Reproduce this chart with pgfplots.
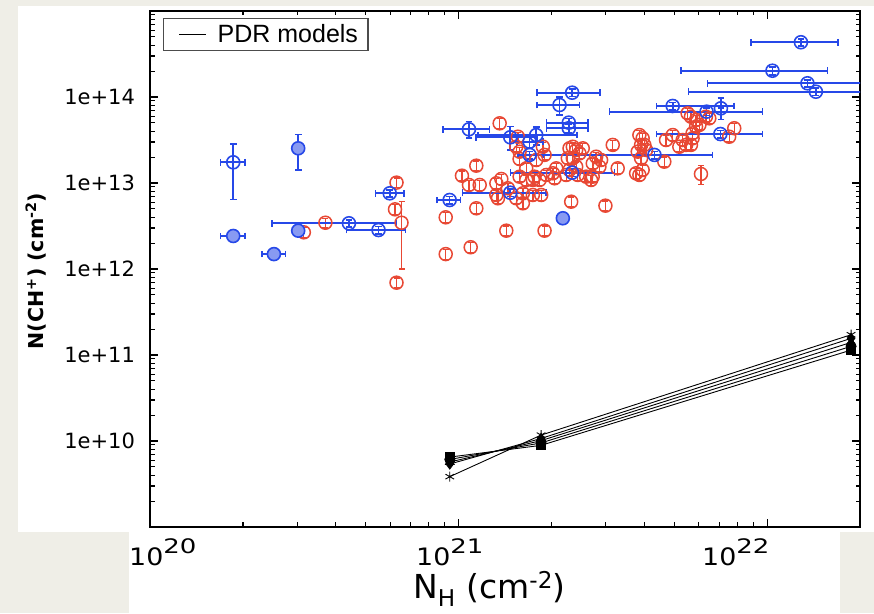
\documentclass[border=0pt]{standalone}
\usepackage{fontspec}
\setmainfont{Liberation Sans}
\newfontfamily\djfont{DejaVu Sans}
\usepackage{graphicx}
\usepackage{pgfplots}
\pgfplotsset{compat=1.18}
\definecolor{bg}{RGB}{239,238,231}
\definecolor{myred}{RGB}{232,72,52}
\definecolor{myblue}{RGB}{38,72,232}

\pgfplotstableread{
x y
3.70e20 3.45e12
3.15e20 2.67e12
6.29e20 1.01e13
6.22e20 4.94e12
6.29e20 6.93e11
9.08e20 3.99e12
9.08e20 1.49e12
1.094e21 1.79e12
1.141e21 5.08e12
1.427e21 2.79e12
1.899e21 2.79e12
1.141e21 1.59e13
1.025e21 1.216e13
1.08e21 9.48e12
1.17e21 9.48e12
1.358e21 4.94e13
1.325e21 9.92e12
1.375e21 1.113e13
1.325e21 7.25e12
1.341e21 6.64e12
1.444e21 8.68e12
1.537e21 6.64e12
1.615e21 5.81e12
2.316e21 6.06e12
2.99e21 5.45e12
1.656e21 1.48e13
1.556e21 3.45e13
1.537e21 2.64e13
1.576e21 2.31e13
1.576e21 1.90e13
1.875e21 2.64e13
1.899e21 2.12e13
1.784e21 1.85e13
1.762e21 1.184e13
1.923e21 1.239e13
2.02e21 1.297e13
2.072e21 1.48e13
2.046e21 1.134e13
1.576e21 1.184e13
1.656e21 1.084e13
1.74e21 1.084e13
1.829e21 1.084e13
1.615e21 7.59e12
1.74e21 7.25e12
1.852e21 7.25e12
2.287e21 2.53e13
2.344e21 2.64e13
2.404e21 2.42e13
2.464e21 2.21e13
2.525e21 2.53e13
2.344e21 1.94e13
2.258e21 1.94e13
2.287e21 1.416e13
2.404e21 1.547e13
2.432e21 1.239e13
2.231e21 1.239e13
2.589e21 1.184e13
2.72e21 1.184e13
2.687e21 1.084e13
2.79e21 2.02e13
2.895e21 1.85e13
2.859e21 1.547e13
2.72e21 1.69e13
3.158e21 2.77e13
3.277e21 1.48e13
3.853e21 3.61e13
3.948e21 3.31e13
3.902e21 2.77e13
3.998e21 2.77e13
4.05e21 2.42e13
3.805e21 2.31e13
3.902e21 1.94e13
3.948e21 1.416e13
3.76e21 1.297e13
3.853e21 1.239e13
4.64e21 1.77e13
4.70e21 3.16e13
4.94e21 3.61e13
5.19e21 2.64e13
5.32e21 3.16e13
5.46e21 2.77e13
5.66e21 2.77e13
5.73e21 3.31e13
5.73e21 3.78e13
5.88e21 4.52e13
5.88e21 5.40e13
6.03e21 4.73e13
5.52e21 6.46e13
5.66e21 5.90e13
6.33e21 5.90e13
6.49e21 5.65e13
7.53e21 3.45e13
7.82e21 4.33e13
}\reddata

\pgfplotstableread{
x y yp ym
6.53e20 3.45e12 0.76 0.71
6.10e21 1.273e13 0.26 0.24
}\redbig

\pgfplotstableread{
x y xp xm yp ym
1.86e20 1.74e13 0.17e20 0.17e20 0.63 0.63
4.41e20 3.40e12 1.88e20 1.93e20 0.10 0.10
5.50e20 2.84e12 1.22e20 1.17e20 0.10 0.10
5.98e20 7.59e12 0.67e20 0.60e20 0.10 0.10
9.35e20 6.34e12 0.80e20 0.82e20 0.10 0.10
1.08e21 4.21e13 0.18e21 0.19e21 0.23 0.21
1.47e21 3.40e13 0.33e21 0.33e21 0.33 0.29
1.784e21 3.61e13 0.64e21 0.63e21 0.25 0.23
1.698e21 3.02e13 0.18e21 0.15e21 0.15 0.15
2.275e21 5.03e13 0.35e21 0.35e21 0.12 0.12
2.275e21 4.33e13 0.35e21 0.35e21 0.12 0.12
2.333e21 1.122e14 0.54e21 0.54e21 0.10 0.10
2.123e21 8.07e13 0.34e21 0.33e21 0.25 0.23
1.698e21 2.12e13 0.18e21 0.14e21 0.10 0.10
4.31e21 2.12e13 2.34e21 2.75e21 0.10 0.10
2.333e21 1.318e13 0.87e21 0.86e21 0.10 0.10
1.47e21 7.71e12 0.45e21 0.44e21 0.10 0.10
4.94e21 7.86e13 2.88e21 0.56e21 0.10 0.10
6.36e21 6.75e13 3.30e21 3.28e21 0.10 0.10
7.08e21 7.39e13 0 0 0.31 0.26
7.05e21 3.71e13 2.61e21 2.67e21 0.10 0.10
1.286e22 4.33e14 4.14e21 4.00e21 0.10 0.10
1.04e22 2.02e14 5.27e21 5.14e21 0.10 0.10
1.35e22 1.443e14 7.09e21 7.09e21 0.10 0.10
1.438e22 1.152e14 8.80e21 8.82e21 0.10 0.10
}\bluedata

\pgfplotstableread{
x y xp xm yp ym
3.02e20 2.53e13 0 0 0.45 0.44
1.86e20 2.42e12 0.17e20 0.17e20 0.10 0.10
2.52e20 1.49e12 0.23e20 0.21e20 0.10 0.10
3.02e20 2.79e12 0 0 0.10 0.10
2.176e21 3.89e12 0 0 0.10 0.10
}\bluefilled

\pgfplotsset{
  bluebars/.style={/pgfplots/error bars/.cd, x dir=both, x explicit, y dir=both, y explicit relative,
    error mark=-,
    error bar style={line width=1.7pt, myblue},
    error mark options={rotate=90, mark size=3.4pt, line width=1.7pt, myblue},
    /pgfplots/.cd},
  redbars/.style={/pgfplots/error bars/.cd, y dir=both, error mark=-,
    error bar style={line width=1.3pt, myred},
    error mark options={rotate=90, mark size=3pt, line width=1.3pt, myred},
    /pgfplots/.cd},
}

\begin{document}
\begin{tikzpicture}[x=1pt,y=1pt]
\fill[bg] (0,0) rectangle (874,613);
\fill[white] (18,81) rectangle (874,607);
\fill[white] (129,0) rectangle (840,81);
\begin{axis}[
  at={(150pt,86pt)}, anchor=south west,
  scale only axis, width=710pt, height=516pt,
  xmode=log, ymode=log, log basis x=10, log basis y=10,
  xmin=1e20, xmax=2e22, ymin=1e9, ymax=1e15,
  xtick={1e20,1e21,1e22}, xticklabels={,,},
  minor xtick={2e20,3e20,4e20,5e20,6e20,7e20,8e20,9e20,2e21,3e21,4e21,5e21,6e21,7e21,8e21,9e21},
  ytick={1e10,1e11,1e12,1e13,1e14},
  yticklabels={1e+10,1e+11,1e+12,1e+13,1e+14},
  minor ytick={2e9,3e9,4e9,5e9,6e9,7e9,8e9,9e9,2e10,3e10,4e10,5e10,6e10,7e10,8e10,9e10,2e11,3e11,4e11,5e11,6e11,7e11,8e11,9e11,2e12,3e12,4e12,5e12,6e12,7e12,8e12,9e12,2e13,3e13,4e13,5e13,6e13,7e13,8e13,9e13,2e14,3e14,4e14,5e14,6e14,7e14,8e14,9e14},
  yticklabel style={font=\djfont\fontsize{21}{21}\selectfont, inner sep=0pt, xshift=-15pt},
  tick align=inside, xtick pos=both, ytick pos=both,
  major tick length=8pt, minor tick length=4.5pt,
  every major tick/.append style={line width=1.4pt, black},
  every minor tick/.append style={line width=1.1pt, black},
  axis line style={line width=2pt, black},
  legend style={at={(axis description cs:0.0183,0.9864)}, anchor=north west,
    draw=black!70, line width=1.3pt, fill=white,
    font=\fontsize{25}{25}\selectfont,
    inner xsep=8pt, inner ysep=4pt, nodes={inner xsep=2pt, inner ysep=2pt}},
  legend image code/.code={\path (-7pt,0pt); \draw[black, line width=1pt] (0pt,0pt) -- (27pt,0pt); \path (36pt,0pt);},
]
% red points
\addplot[only marks, mark=o, mark size=6.5pt, myred, line width=1.5pt, forget plot,
  redbars, /pgfplots/error bars/y fixed relative=0.13]
  table[x=x, y=y] {\reddata};
\addplot[only marks, mark=o, mark size=6.5pt, myred, line width=1.5pt, forget plot,
  redbars, /pgfplots/error bars/y explicit relative]
  table[x=x, y=y, y error plus=yp, y error minus=ym] {\redbig};
% blue points
\addplot[only marks, mark=o, mark size=6.5pt, myblue, line width=1.6pt, forget plot, bluebars]
  table[x=x, y=y, x error plus=xp, x error minus=xm, y error plus=yp, y error minus=ym] {\bluedata};
\addplot[only marks, mark=*, mark size=6.5pt, myblue, line width=1.6pt, forget plot,
  mark options={fill=myblue!55, draw=myblue}, bluebars]
  table[x=x, y=y, x error plus=xp, x error minus=xm, y error plus=yp, y error minus=ym] {\bluefilled};
% PDR models
\addplot[black, line width=0.9pt, mark=asterisk, mark size=5pt, forget plot]
  coordinates {(9.36e20,3.85e9) (1.85e21,1.17e10) (1.87e22,1.72e11)};
\addplot[black, line width=0.9pt, mark=square*, mark size=4.5pt, forget plot]
  coordinates {(9.36e20,6.5e9) (1.85e21,8.9e9) (1.87e22,1.14e11)};
\addplot[black, line width=0.9pt, mark=*, mark size=5pt, forget plot]
  coordinates {(9.36e20,6.1e9) (1.85e21,9.5e9) (1.87e22,1.26e11)};
\addplot[black, line width=0.9pt, mark=triangle*, mark size=5pt, forget plot]
  coordinates {(9.36e20,5.7e9) (1.85e21,1.01e10) (1.87e22,1.40e11)};
\addplot[black, line width=0.9pt, mark=diamond*, mark size=5pt, forget plot]
  coordinates {(9.36e20,5.4e9) (1.85e21,1.07e10) (1.87e22,1.56e11)};
\addlegendimage{black, line width=1pt}
\addlegendentry{PDR models}
\end{axis}
% x tick labels
\node[anchor=base west, inner sep=0pt] at (129,48) {\djfont\scalebox{1.12}[1]{\fontsize{24}{24}\selectfont 10}\raisebox{12pt}{\scalebox{1.3}[1]{\fontsize{20}{20}\selectfont 20}}};
\node[anchor=base west, inner sep=0pt] at (416,48) {\djfont\scalebox{1.12}[1]{\fontsize{24}{24}\selectfont 10}\raisebox{12pt}{\scalebox{1.3}[1]{\fontsize{20}{20}\selectfont 21}}};
\node[anchor=base west, inner sep=0pt] at (702,48) {\djfont\scalebox{1.12}[1]{\fontsize{24}{24}\selectfont 10}\raisebox{12pt}{\scalebox{1.3}[1]{\fontsize{20}{20}\selectfont 22}}};
% axis labels
\node[anchor=base west, inner sep=0pt] at (413,15) {\djfont\fontsize{33}{33}\selectfont N\textsubscript{H} (cm\textsuperscript{-2})};
\node[rotate=90, inner sep=0pt] at (36,342) {\djfont\bfseries\fontsize{20.5}{20.5}\selectfont N(CH\textsuperscript{+}) (cm\textsuperscript{-2})};
\end{tikzpicture}
\end{document}
